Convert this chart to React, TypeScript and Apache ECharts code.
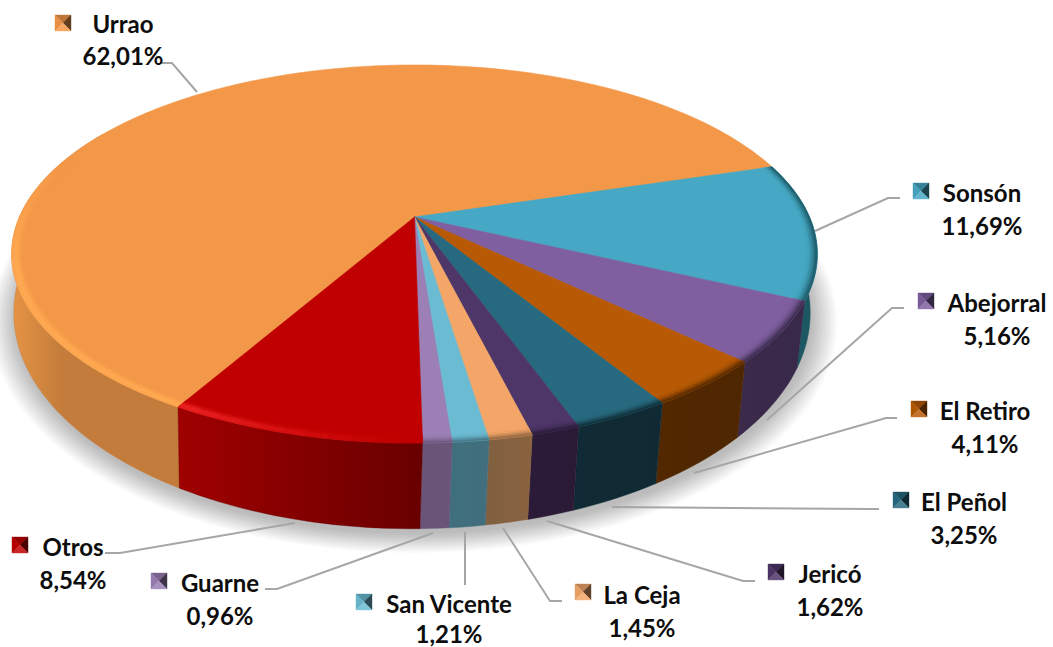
import React, { useEffect, useRef } from "react";
import * as echarts from "echarts";

const categories = ["Urrao", "Sonsón", "Abejorral", "El Retiro", "El Peñol", "Jericó", "La Ceja", "San Vicente", "Guarne", "Otros"];
const shares = [62.01, 11.69, 5.16, 4.11, 3.25, 1.62, 1.45, 1.21, 0.96, 8.54];

const topColors = ["#F39748", "#46A8C4", "#7F5F9F", "#B85A05", "#276A7F", "#4E3668", "#F3A668", "#6BBBD3", "#9B7FB5", "#C00000"];
const wallLeft = ["#E59443", "#1F5F6C", "#3B2A4A", "#512800", "#102B35", "#2B1B38", "#80603F", "#3F6F7C", "#6A5578", "#A00000"];
const wallRight = ["#C47C3C", "#1B5560", "#38284A", "#4E2600", "#102A33", "#2A1A36", "#8A6240", "#426E7E", "#6A5578", "#680000"];
const rimGlow = ["#FFAA52", null, null, null, null, null, null, null, null, "#EE2424"];

// [marker x, marker y, name centre x, name centre y, share centre x, share centre y]
const labelBoxes = [
  [55, 15, 123, 23, 123, 55],
  [913, 183, 982, 192, 982, 225],
  [918, 293, 997, 302, 997, 335],
  [911, 401, 985, 410, 985, 443],
  [893, 492, 964, 501, 964, 534],
  [768, 564, 830, 573, 830, 606],
  [575, 584, 642, 594, 642, 627],
  [356, 594, 449, 603, 449, 633],
  [151, 573, 220, 582, 220, 615],
  [12, 537, 73, 546, 73, 579],
];
const leaderLines = [
  [[160, 63], [172, 63], [197, 92]],
  [[815, 231], [888, 198], [900, 198]],
  [[767, 420], [892, 308], [904, 308]],
  [[694, 473], [886, 418], [897, 418]],
  [[612, 507], [868, 509], [879, 509]],
  [[547, 521], [743, 581], [755, 581]],
  [[503, 528], [550, 601], [562, 601]],
  [[465, 532], [465, 585]],
  [[433, 533], [277, 589], [265, 589]],
  [[295, 523], [120, 553], [105, 553]],
];

const START_ANGLE = 209.8;
const TOP = { cx: 414.5, cy: 217, a: 395, b: 181.8, k: 0.1958 };
const BOTTOM = { cx: 412, cy: 272, a: 391, b: 208, k: 0.19 };

type Plane = typeof TOP;
function project(deg: number, r: number, p: Plane): number[] {
  const t = (deg * Math.PI) / 180;
  const u = r * Math.sin(t);
  const v = -r * Math.cos(t);
  const w = 1 - p.k * v;
  return [p.cx + (p.a * u) / w, p.cy + (p.b * v) / w];
}
function hexRgb(h: string) {
  return [parseInt(h.slice(1, 3), 16), parseInt(h.slice(3, 5), 16), parseInt(h.slice(5, 7), 16)];
}
function mix(a: string, b: string, t: number) {
  const x = hexRgb(a);
  const y = hexRgb(b);
  const c = x.map((q, i) => Math.round(q + (y[i] - q) * t));
  return "#" + c.map((q) => q.toString(16).padStart(2, "0")).join("");
}
function sliceRange(i: number) {
  const before = shares.slice(0, i).reduce((s, v) => s + v, 0);
  const total = shares.reduce((s, v) => s + v, 0);
  const a0 = START_ANGLE + (before / total) * 360;
  return [a0, a0 + (shares[i] / total) * 360];
}
function arcPts(a0: number, a1: number, r: number, p: Plane, step = 1.5) {
  const n = Math.max(2, Math.ceil((a1 - a0) / step));
  const out: number[][] = [];
  for (let j = 0; j <= n; j++) out.push(project(a0 + ((a1 - a0) * j) / n, r, p));
  return out;
}
function glowFactor(i: number, deg: number) {
  const d = ((deg % 360) + 360) % 360;
  if (i === 0) {
    if (d >= 205 && d <= 255) return 1;
    if (d > 255 && d < 290) return (290 - d) / 35;
    return 0;
  }
  return Math.max(0, Math.min(1, (d - 182) / 27));
}

function renderWall(params: any) {
  const i = params.dataIndex;
  let [a0, a1] = sliceRange(i);
  if (a0 >= 360) {
    a0 -= 360;
    a1 -= 360;
  }
  const lo = Math.max(a0, 60);
  const hi = Math.min(a1, 300);
  if (hi <= lo) return { type: "group", children: [] };
  const upper = arcPts(lo, hi, 1, TOP);
  const lower = arcPts(lo, hi, 1, BOTTOM).reverse();
  const grad = new echarts.graphic.LinearGradient(0, 0, 1, 0, [
    { offset: 0, color: wallLeft[i] },
    { offset: i === 0 ? 0.3 : 1, color: wallRight[i] },
    { offset: 1, color: wallRight[i] },
  ]);
  return {
    type: "polygon",
    shape: { points: upper.concat(lower) },
    style: { fill: grad, stroke: wallRight[i], lineWidth: 0.4 },
    silent: true,
  };
}

function renderTop(params: any) {
  const i = params.dataIndex;
  const [a0, a1] = sliceRange(i);
  const c = topColors[i];
  const apex = project(0, 0, TOP);
  const children: any[] = [
    {
      type: "polygon",
      shape: { points: [apex].concat(arcPts(a0, a1, 1, TOP)) },
      style: { fill: c, stroke: c, lineWidth: 0.6 },
    },
  ];
  const radii = [0.972, 0.9776, 0.9832, 0.9888, 0.9944, 1];
  const glowWeights = [0.12, 0.4, 0.8, 1, 0.85];
  const darkWeights = [0.03, 0.1, 0.3, 0.55, 0.85];
  const glow = rimGlow[i];
  const n = Math.max(1, Math.ceil((a1 - a0) / 3));
  for (let s = 0; s < 5; s++) {
    for (let j = 0; j < n; j++) {
      const b0 = a0 + ((a1 - a0) * j) / n;
      const b1 = a0 + ((a1 - a0) * (j + 1)) / n;
      const mid = (b0 + b1) / 2;
      let col: string;
      if (glow) {
        const f = glowFactor(i, mid);
        if (f <= 0 && i === 0) continue;
        col = mix(c, glow, f * glowWeights[s]);
      } else {
        col = mix(c, wallRight[i], darkWeights[s]);
      }
      const inner = arcPts(b0, b1, radii[s], TOP, 4);
      const outer = arcPts(b0, b1, radii[s + 1], TOP, 4).reverse();
      children.push({
        type: "polygon",
        shape: { points: inner.concat(outer) },
        style: { fill: col, stroke: col, lineWidth: 0.5 },
      });
    }
  }
  return { type: "group", silent: true, children };
}

function labelGraphics() {
  const els: any[] = [];
  const layers = 14;
  for (let l = 0; l < layers; l++) {
    const r = 1.06 - (0.06 * l) / (layers - 1);
    const ring = arcPts(0, 360, r, BOTTOM, 3).map(([x, y]) => [x + 2, y + 5]);
    els.push({
      type: "polygon",
      z: 0,
      shape: { points: ring },
      style: { fill: "rgba(0,0,0,0.018)" },
      silent: true,
    });
  }
  categories.forEach((name, i) => {
    const [mx, my, nx, ny, px, py] = labelBoxes[i];
    const c = topColors[i];
    els.push({
      type: "polyline",
      z: 1,
      shape: { points: leaderLines[i] },
      style: { stroke: "#A6A6A6", lineWidth: 2, fill: "none" },
      silent: true,
    });
    const s = 16;
    const mid = [mx + s / 2, my + s / 2];
    const tris = [
      { pts: [[mx, my], [mx + s, my], mid], fill: mix(c, "#000000", 0.22) },
      { pts: [[mx, my], [mx, my + s], mid], fill: mix(c, "#000000", 0.05) },
      { pts: [[mx + s, my], [mx + s, my + s], mid], fill: mix(c, "#000000", 0.6) },
      { pts: [[mx, my + s], [mx + s, my + s], mid], fill: mix(c, "#FFFFFF", 0.15) },
    ];
    tris.forEach((t) =>
      els.push({ type: "polygon", z: 20, shape: { points: t.pts }, style: { fill: t.fill, stroke: t.fill, lineWidth: 0.4 }, silent: true })
    );
    const font = { fontFamily: "Lato", fontWeight: "bold", fontSize: 24, fill: "#0D0D0D", textAlign: "center", textVerticalAlign: "middle" };
    els.push({ type: "text", z: 20, x: nx, y: ny, style: { ...font, text: name } });
    els.push({ type: "text", z: 20, x: px, y: py, style: { ...font, text: shares[i].toFixed(2).replace(".", ",") + "%" } });
  });
  return els;
}

export default function App() {
  const ref = useRef<HTMLDivElement>(null);
  useEffect(() => {
    document.body.style.margin = "0";
    const chart = echarts.init(ref.current!, null, { renderer: "svg" });
    chart.setOption({
      animation: false,
      backgroundColor: "#FFFFFF",
      graphic: { elements: labelGraphics() },
      series: [
        { type: "custom", name: "wall", coordinateSystem: "none", z: 2, silent: true, data: shares, renderItem: renderWall },
        { type: "custom", name: "top", coordinateSystem: "none", z: 3, silent: true, data: shares, renderItem: renderTop },
      ],
    });
    return () => chart.dispose();
  }, []);
  return <div ref={ref} style={{ width: 1053, height: 647 }} />;
}
